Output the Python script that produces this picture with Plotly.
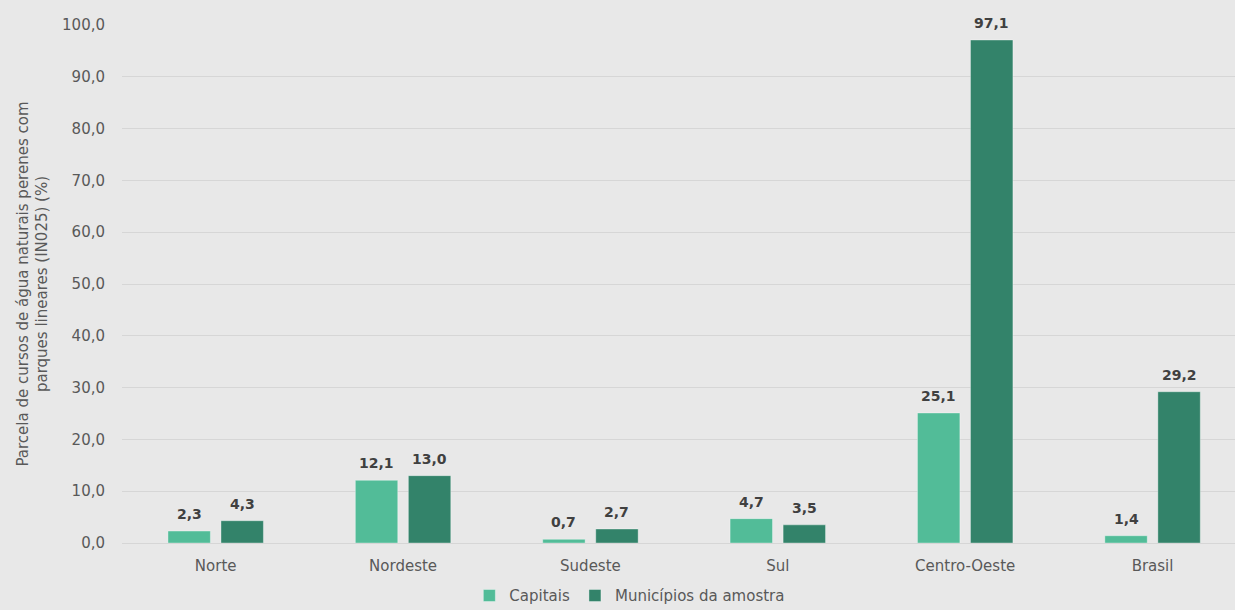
import plotly.graph_objects as go

categories = ["Norte", "Nordeste", "Sudeste", "Sul", "Centro-Oeste", "Brasil"]
capitais = [2.3, 12.1, 0.7, 4.7, 25.1, 1.4]
municipios = [4.3, 13.0, 2.7, 3.5, 97.1, 29.2]
series_names = ["Capitais", "Municípios da amostra"]
y_title = "Parcela de cursos de água naturais perenes com<br>parques lineares (IN025) (%)"

FONT = "'DejaVu Sans', sans-serif"
colors = ["#52BC98", "#33836A"]

W, H = 1235, 610
ML, MR = 122, 0
XR = [-0.5, 5.44]
BARGAP, GROUPGAP = 0.434, 0.2
px_per_unit = (W - ML - MR) / (XR[1] - XR[0])
slot = (1 - BARGAP) / 2 * px_per_unit

fig = go.Figure()
annotations = []
for i, (name, vals, col) in enumerate(zip(series_names, [capitais, municipios], colors)):
    fig.add_trace(go.Bar(
        x=categories, y=vals, name=name,
        marker=dict(color=col, line=dict(color="rgba(255,255,255,0.35)", width=1)),
    ))
    for c, v in zip(categories, vals):
        annotations.append(dict(
            x=c, y=v, xref="x", yref="y", text=f"<b>{v:.1f}</b>".replace(".", ","),
            showarrow=False, yanchor="bottom", xanchor="center",
            xshift=(i - 0.5) * slot, yshift=7,
            font=dict(family=FONT, size=14, color="#404040"),
        ))

fig.update_layout(
    width=W, height=H,
    paper_bgcolor="#E8E8E8", plot_bgcolor="#E8E8E8",
    separators=",.",
    margin=dict(l=ML, r=MR, t=25, b=67, autoexpand=False),
    barmode="group", bargap=BARGAP, bargroupgap=GROUPGAP,
    font=dict(family=FONT, size=15, color="#595959"),
    xaxis=dict(range=XR, showgrid=False, ticks="", tickfont=dict(size=15, color="#595959"),
               showline=False, zeroline=False, ticklabelstandoff=12),
    yaxis=dict(range=[0, 100], dtick=10, tickformat=".1f", showgrid=True, gridcolor="#D6D6D6",
               gridwidth=1, zeroline=True, zerolinecolor="#D6D6D6", zerolinewidth=1,
               tickfont=dict(size=15, color="#595959"), ticklen=0, ticks="",
               ticklabelstandoff=16,
               title=dict(text=y_title, font=dict(size=15, color="#595959"), standoff=10)),
    legend=dict(orientation="h", xref="container", yref="paper", x=0.51, y=-0.07,
                xanchor="center", yanchor="top", font=dict(size=15, color="#595959"),
                itemwidth=30, tracegroupgap=0),
    annotations=annotations,
    showlegend=True,
)

fig.write_html("out.html", config={"displayModeBar": False},
               post_script="document.body.style.margin='0';document.body.style.padding='0';")
